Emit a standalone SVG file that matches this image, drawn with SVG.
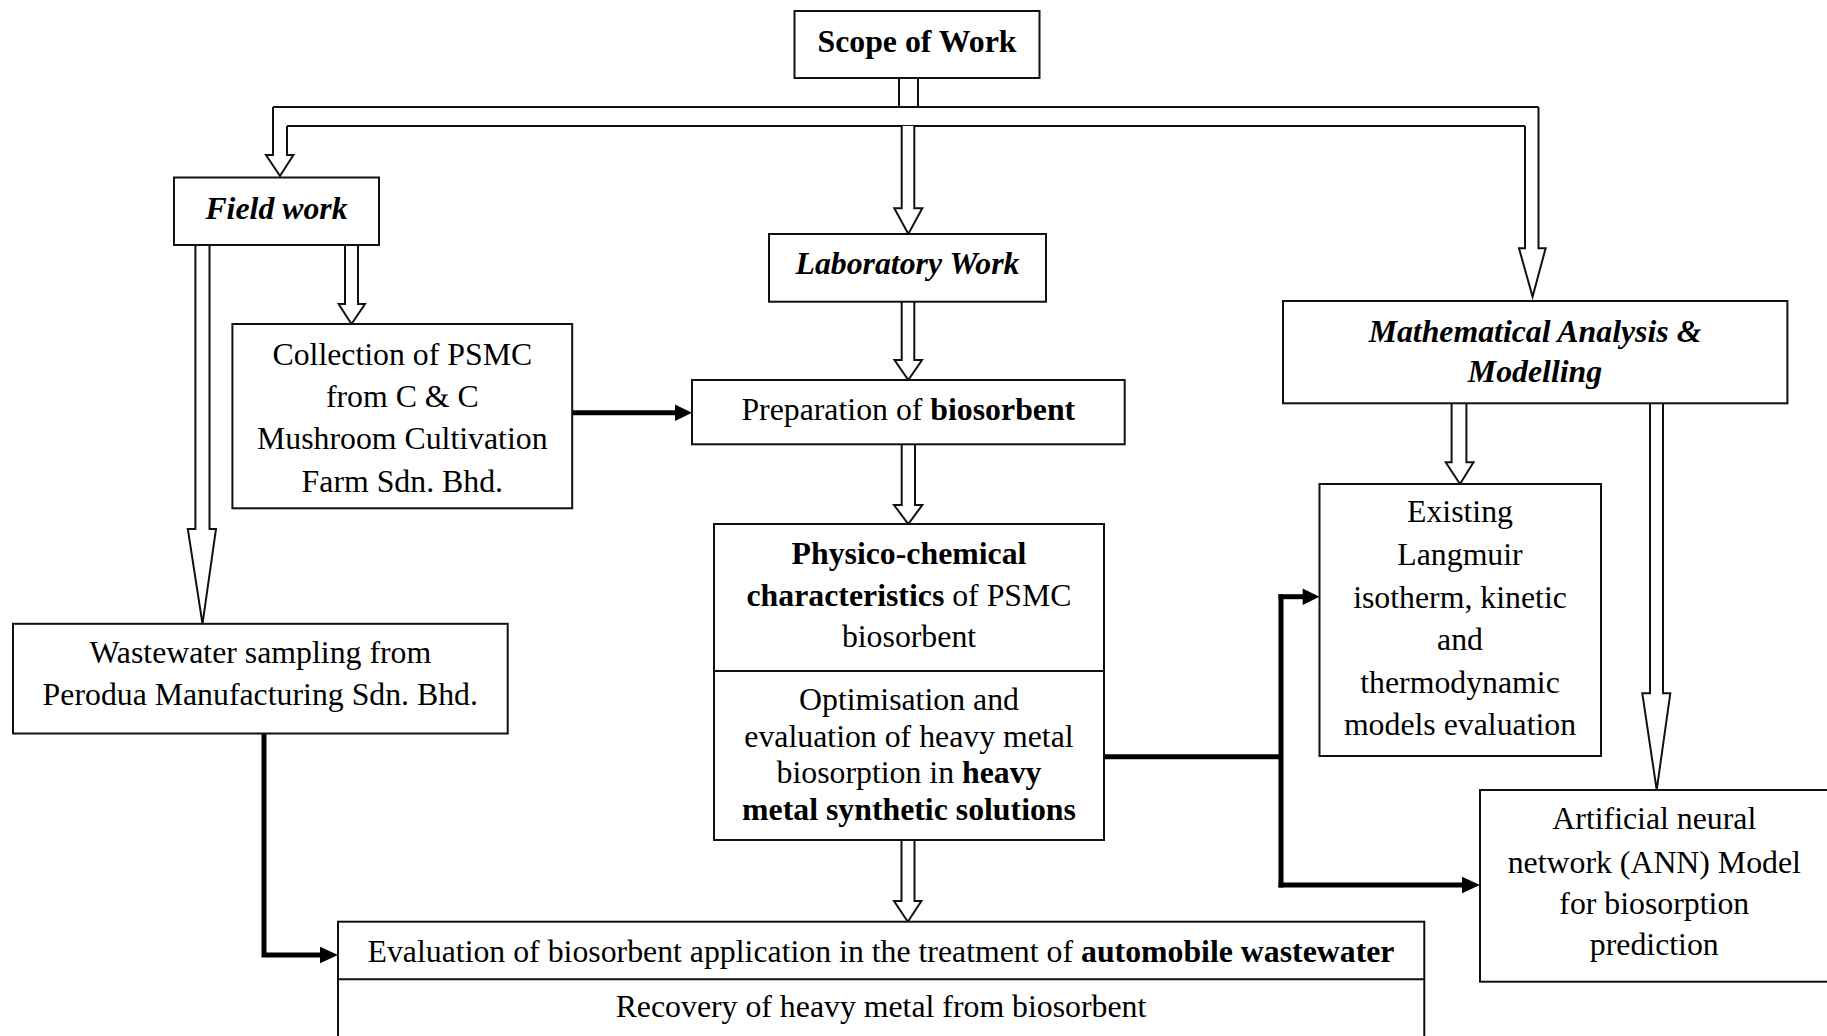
<svg xmlns="http://www.w3.org/2000/svg" width="1827" height="1036" viewBox="0 0 1827 1036">
<defs>
<style>
.box{fill:#fff;stroke:#111;stroke-width:2}
.div{stroke:#111;stroke-width:2}
.t{font-family:"Liberation Serif","Times New Roman",serif;font-size:31.8px;fill:#000;text-anchor:middle}
.b{font-weight:bold}
.bi{font-weight:bold;font-style:italic}
.hollow{fill:#fff;stroke:#111;stroke-width:2;stroke-linejoin:miter}
.ln{fill:none;stroke:#111;stroke-width:2}
.thick{fill:none;stroke:#000;stroke-width:5}
.head{fill:#000;stroke:none}
</style>
</defs>
<rect width="1827" height="1036" fill="#fff"/>

<g id="connectors">
  <!-- Scope stem and distribution bar -->
  <line class="ln" x1="899" y1="78" x2="899" y2="107"/>
  <line class="ln" x1="918" y1="78" x2="918" y2="107"/>
  <line class="ln" x1="273" y1="107" x2="1538.5" y2="107"/>
  <line class="ln" x1="287" y1="126" x2="1525" y2="126"/>
  <path class="hollow" d="M273,107 V155 H266 L280,176 L293.4,155 H287 V126"/>
  <path class="hollow" d="M1538.5,107 V248.3 H1545.6 L1532.6,296.7 L1519,248.3 H1525 V126"/>
  <path class="hollow" d="M901.7,126 V208.3 H894.3 L908.3,234 L922.3,208.3 H914.3 V126"/>
  <!-- Field work arrows -->
  <path class="hollow" d="M345,245 V304 H338.6 L351.5,324 L365,304 H358 V245"/>
  <path class="hollow" d="M195.4,245 V529 H187.8 L202.5,623.8 L216,529 H209.5 V245"/>
  <!-- Lab chain -->
  <path class="hollow" d="M901.7,301.7 V360 H894.5 L908.3,380 L922,360 H914.3 V301.7"/>
  <path class="hollow" d="M901.7,444.3 V505 H894 L908.3,524 L922.3,505 H915 V444.3"/>
  <path class="hollow" d="M901.5,840 V901 H894 L907.8,921.7 L921.4,901 H914.5 V840"/>
  <!-- Math arrows -->
  <path class="hollow" d="M1451.6,403.3 V462.3 H1445.7 L1460,484 L1473.5,462.3 H1466.4 V403.3"/>
  <path class="hollow" d="M1650,403.3 V693.3 H1642.3 L1656.7,790 L1670.3,693.3 H1663 V403.3"/>
  <!-- Thick connectors -->
  <path class="thick" d="M572,412.7 H677"/>
  <polygon class="head" points="675,404.4 692,412.7 675,421"/>
  <path class="thick" d="M264,733.5 V955 H322"/>
  <polygon class="head" points="320,946.7 338,955 320,963.3"/>
  <path class="thick" d="M1104,756.7 H1281"/>
  <path class="thick" d="M1281,594.2 V887.5"/>
  <path class="thick" d="M1278.5,596.7 H1304"/>
  <polygon class="head" points="1302.7,588.4 1319.5,596.7 1302.7,605"/>
  <path class="thick" d="M1278.5,885 H1464"/>
  <polygon class="head" points="1462,876.7 1480,885 1462,893.3"/>
</g>

<g id="scope">
  <rect class="box" x="794.5" y="11" width="245" height="67"/>
  <text class="t b" x="917" y="52">Scope of Work</text>
</g>

<g id="field-work">
  <rect class="box" x="174" y="177.5" width="205" height="67.5"/>
  <text class="t bi" x="276.5" y="218.5">Field work</text>
</g>

<g id="laboratory-work">
  <rect class="box" x="769" y="234" width="277" height="67.7"/>
  <text class="t bi" x="907.5" y="274">Laboratory Work</text>
</g>

<g id="math-analysis">
  <rect class="box" x="1283" y="301" width="504.4" height="102.3"/>
  <text class="t bi" x="1535" y="341.7">Mathematical Analysis &amp;</text>
  <text class="t bi" x="1535" y="381.7">Modelling</text>
</g>

<g id="collection">
  <rect class="box" x="232.4" y="324" width="339.8" height="184.3"/>
  <text class="t" x="402.3" y="365">Collection of PSMC</text>
  <text class="t" x="402.3" y="407">from C &amp; C</text>
  <text class="t" x="402.3" y="449">Mushroom Cultivation</text>
  <text class="t" x="402.3" y="491.5">Farm Sdn. Bhd.</text>
</g>

<g id="preparation">
  <rect class="box" x="692" y="380" width="432.7" height="64.3"/>
  <text class="t" x="908.3" y="419.5">Preparation of <tspan class="b">biosorbent</tspan></text>
</g>

<g id="physico-chemical">
  <rect class="box" x="714" y="524" width="390" height="316"/>
  <line class="div" x1="714" y1="671" x2="1104" y2="671"/>
  <text class="t b" x="909" y="564">Physico-chemical</text>
  <text class="t" x="909" y="605.7"><tspan class="b">characteristics</tspan> of PSMC</text>
  <text class="t" x="909" y="647.3">biosorbent</text>
  <text class="t" x="909" y="710">Optimisation and</text>
  <text class="t" x="909" y="746.7">evaluation of heavy metal</text>
  <text class="t" x="909" y="783.3">biosorption in <tspan class="b">heavy</tspan></text>
  <text class="t b" x="909" y="820">metal synthetic solutions</text>
</g>

<g id="existing-models">
  <rect class="box" x="1319.5" y="484" width="281.5" height="272"/>
  <text class="t" x="1460" y="522">Existing</text>
  <text class="t" x="1460" y="565">Langmuir</text>
  <text class="t" x="1460" y="607.7">isotherm, kinetic</text>
  <text class="t" x="1460" y="650.4">and</text>
  <text class="t" x="1460" y="693">thermodynamic</text>
  <text class="t" x="1460" y="734.5">models evaluation</text>
</g>

<g id="wastewater-sampling">
  <rect class="box" x="13" y="623.8" width="494.7" height="109.7"/>
  <text class="t" x="260.3" y="663.4">Wastewater sampling from</text>
  <text class="t" x="260.3" y="705">Perodua Manufacturing Sdn. Bhd.</text>
</g>

<g id="ann-model">
  <rect class="box" x="1480" y="790" width="350" height="191.7"/>
  <text class="t" x="1654.3" y="829.3">Artificial neural</text>
  <text class="t" x="1654.3" y="872.7">network (ANN) Model</text>
  <text class="t" x="1654.3" y="914.3">for biosorption</text>
  <text class="t" x="1654.3" y="955">prediction</text>
</g>

<g id="evaluation">
  <rect class="box" x="338" y="921.7" width="1086.3" height="130"/>
  <line class="div" x1="338" y1="979.3" x2="1424.3" y2="979.3"/>
  <text class="t" x="881" y="961.5">Evaluation of biosorbent application in the treatment of <tspan class="b">automobile wastewater</tspan></text>
  <text class="t" x="881" y="1016.5">Recovery of heavy metal from biosorbent</text>
</g>
</svg>
